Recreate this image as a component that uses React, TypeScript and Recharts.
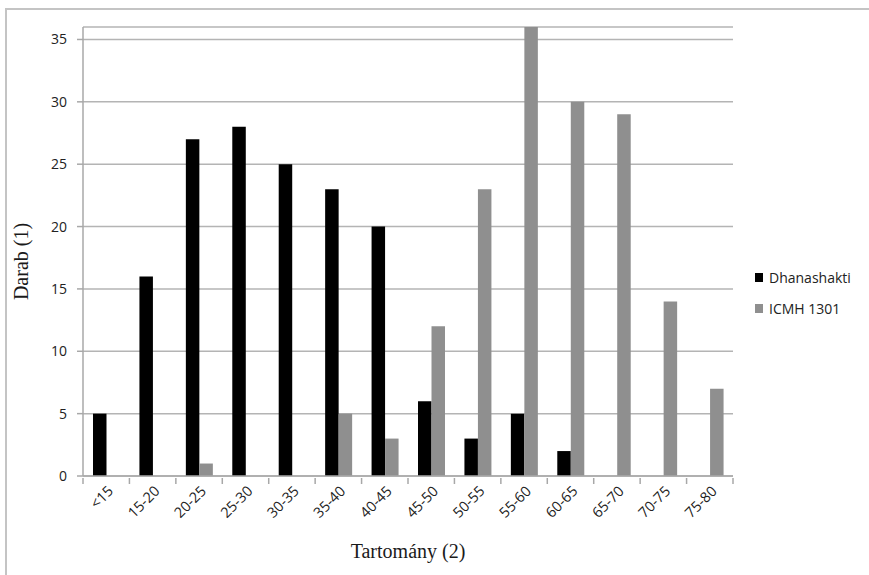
import React from 'react'
import { BarChart, Bar, XAxis, YAxis, CartesianGrid, Legend, Label } from 'recharts'

const categories = ['<15', '15-20', '20-25', '25-30', '30-35', '35-40', '40-45', '45-50', '50-55', '55-60', '60-65', '65-70', '70-75', '75-80']
const dhanashakti = [5, 16, 27, 28, 25, 23, 20, 6, 3, 5, 2, null, null, null]
const icmh1301 = [null, null, 1, null, null, 5, 3, 12, 23, 36, 30, 29, 14, 7]
const yTicks = [0, 5, 10, 15, 20, 25, 30, 35]

const seriesNames = { dhanashakti: 'Dhanashakti', icmh: 'ICMH 1301' }

const data = categories.map((range, i) => ({
  range,
  dhanashakti: dhanashakti[i],
  icmh: icmh1301[i],
}))

const AXIS_GRAY = '#a8a8a8'
const GRID_GRAY = '#b4b4b4'
const BAR_GRAY = '#8f8f8f'
const SANS = '"Open Sans", "Noto Sans", sans-serif'
const SERIF = '"Liberation Serif", "DejaVu Serif", serif'

const XTick = (props: any) => {
  const { x, y, payload, index } = props
  const half = payload.offset ?? 23.2
  const axisY = y - 6
  const last = index === categories.length - 1
  const tx = x + 8
  const ty = y + 8
  return (
    <g>
      <line x1={x - half} x2={x - half} y1={axisY} y2={axisY + 6} stroke={AXIS_GRAY} strokeWidth={1.5} />
      {last && <line x1={x + half} x2={x + half} y1={axisY} y2={axisY + 6} stroke={AXIS_GRAY} strokeWidth={1.5} />}
      <text
        x={tx}
        y={ty}
        textAnchor="end"
        fontSize={14.5}
        fontFamily={SANS}
        fill="#222"
        transform={`rotate(-45, ${tx}, ${ty})`}
      >
        {payload.value}
      </text>
    </g>
  )
}

const LegendContent = () => (
  <div style={{ fontFamily: SANS, fontSize: 14, color: '#222' }}>
    {[
      { name: seriesNames.dhanashakti, color: '#000' },
      { name: seriesNames.icmh, color: BAR_GRAY },
    ].map((item) => (
      <div key={item.name} style={{ display: 'flex', alignItems: 'center', height: 31 }}>
        <span style={{ width: 8, height: 9, background: item.color, display: 'inline-block', marginRight: 6 }} />
        {item.name}
      </div>
    ))}
  </div>
)

export default function App() {
  return (
    <div style={{ position: 'absolute', left: 0, top: 0, width: 869, height: 575, background: '#fff' }}>
      <div
        style={{
          position: 'absolute',
          left: 5,
          top: 8,
          width: 864,
          height: 567,
          borderTop: '2px solid #c4c4c4',
          borderLeft: '2px solid #c4c4c4',
          boxSizing: 'border-box',
        }}
      />
      <BarChart
        width={869}
        height={575}
        data={data}
        margin={{ top: 27, right: 136, left: 33, bottom: 9 }}
        barGap={0}
        barSize={13.5}
        style={{ position: 'absolute', left: 0, top: 0 }}
      >
        <CartesianGrid vertical={false} stroke={GRID_GRAY} strokeWidth={1.5} />
        <XAxis
          dataKey="range"
          interval={0}
          height={90}
          tickLine={false}
          tickSize={6}
          stroke={AXIS_GRAY}
          strokeWidth={1.5}
          tick={<XTick />}
        >
          <Label
            value="Tartomány (2)"
            position="insideBottom"
            offset={8}
            style={{ fontFamily: SERIF, fontSize: 20, fill: '#1a1a1a' }}
          />
        </XAxis>
        <YAxis
          width={50}
          domain={[0, 35]}
          ticks={yTicks}
          interval={0}
          tickSize={6}
          tickMargin={10}
          stroke={AXIS_GRAY}
          strokeWidth={1.5}
          tick={{ fontSize: 14, fontFamily: SANS, fill: '#222' }}
        >
          <Label
            value="Darab (1)"
            angle={-90}
            position="insideLeft"
            offset={-12}
            dy={10}
            style={{ fontFamily: SERIF, fontSize: 20, fill: '#1a1a1a', textAnchor: 'middle' }}
          />
        </YAxis>
        <Legend
          layout="vertical"
          align="center"
          verticalAlign="middle"
          content={<LegendContent />}
          wrapperStyle={{ left: 755, top: 262, width: 110 }}
        />
        <Bar dataKey="dhanashakti" name={seriesNames.dhanashakti} fill="#000" isAnimationActive={false} />
        <Bar dataKey="icmh" name={seriesNames.icmh} fill={BAR_GRAY} isAnimationActive={false} />
      </BarChart>
    </div>
  )
}
